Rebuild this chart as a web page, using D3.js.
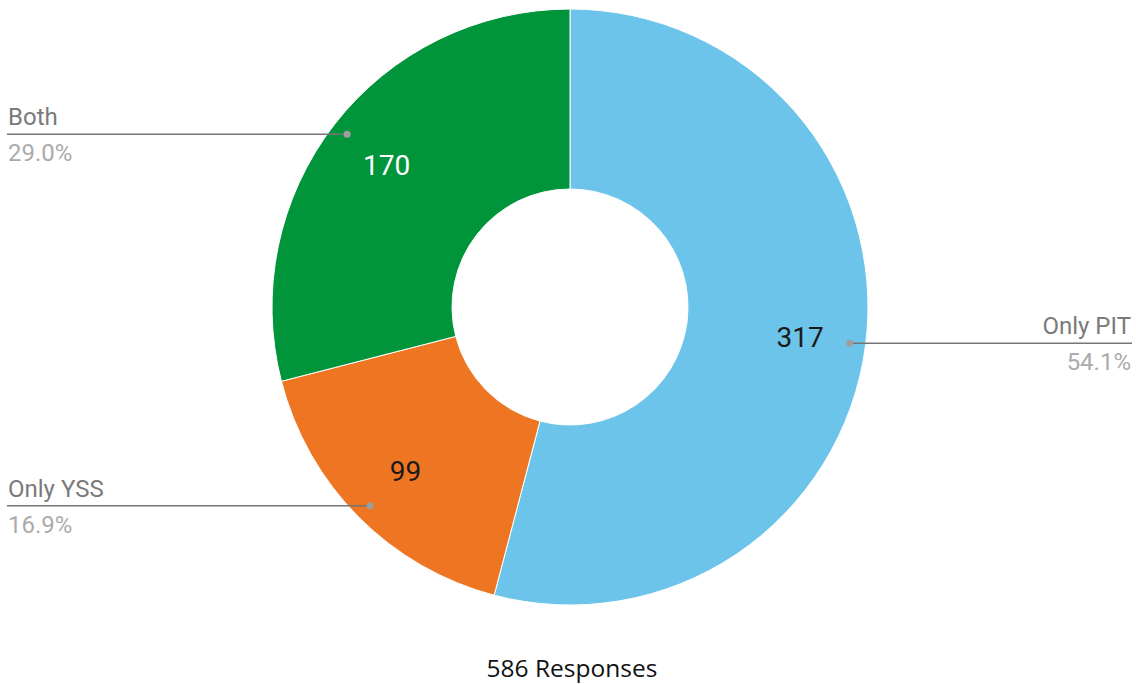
<!DOCTYPE html>
<html>
<head>
<meta charset="utf-8">
<script src="https://cdn.jsdelivr.net/npm/d3@7"></script>
<style>
  body { margin: 0; background: #fff; }
  svg { display: block; }
</style>
</head>
<body>
<svg width="1136" height="684"></svg>
<script>
let categories = ['Only PIT', 'Only YSS', 'Both']
let counts = [317, 99, 170]
let percentLabels = ['54.1%', '16.9%', '29.0%']
let colors = ['#6cc4ea', '#ee7623', '#00953a']
let valueColors = ['#1a1a1a', '#1a1a1a', '#ffffff']
let total = 586

let width = 1136, height = 684
let cx = 570, cy = 307, outerR = 298, innerR = 118

let svg = d3.select('svg')
let g = svg.append('g').attr('transform', `translate(${cx},${cy})`)

let data = categories.map((c, i) => ({name: c, value: counts[i], pct: percentLabels[i], i: i}))

let pie = d3.pie().value(d => d.value).sort(null)
let arc = d3.arc().innerRadius(innerR).outerRadius(outerR)
let arcs = pie(data)

g.selectAll('path')
  .data(arcs)
  .join('path')
  .attr('d', arc)
  .attr('fill', d => colors[d.data.i])
  .attr('stroke', '#fff')
  .attr('stroke-width', 1)

// values inside slices
let labelArc = d3.arc().innerRadius(232).outerRadius(232)
g.selectAll('text.val')
  .data(arcs)
  .join('text')
  .attr('class', 'val')
  .attr('x', d => labelArc.centroid(d)[0])
  .attr('y', d => labelArc.centroid(d)[1])
  .attr('dy', '0.36em')
  .attr('text-anchor', 'middle')
  .style('font-family', 'Roboto, sans-serif')
  .style('font-size', '28px')
  .style('fill', d => valueColors[d.data.i])
  .text(d => d.data.value)

// leader lines
let dotArc = d3.arc().innerRadius(282).outerRadius(282)
arcs.forEach(d => {
  let p = dotArc.centroid(d)
  let right = p[0] > 0
  let x0 = cx + p[0], y0 = cy + p[1]
  let xEnd = right ? 1132 : 7
  svg.append('line')
    .attr('x1', x0).attr('y1', y0)
    .attr('x2', xEnd).attr('y2', y0)
    .attr('stroke', '#757575')
    .attr('stroke-width', 1.5)
  svg.append('circle')
    .attr('cx', x0).attr('cy', y0).attr('r', 3.5)
    .attr('fill', '#9e9e9e')
  let tx = right ? 1131 : 8
  let anchor = right ? 'end' : 'start'
  svg.append('text')
    .attr('x', tx).attr('y', y0 - 9)
    .attr('text-anchor', anchor)
    .style('font-family', 'Roboto, sans-serif')
    .style('font-size', '24px')
    .style('fill', '#7a7a7a')
    .text(d.data.name)
  svg.append('text')
    .attr('x', tx).attr('y', y0 + 27)
    .attr('text-anchor', anchor)
    .style('font-family', 'Roboto, sans-serif')
    .style('font-size', '24px')
    .style('fill', '#ababab')
    .text(d.data.pct)
})

svg.append('text')
  .attr('x', 572).attr('y', 677)
  .attr('text-anchor', 'middle')
  .style('font-family', '"Open Sans", sans-serif')
  .style('font-size', '24.5px')
  .style('fill', '#111')
  .text(total + ' Responses')
</script>
</body>
</html>
